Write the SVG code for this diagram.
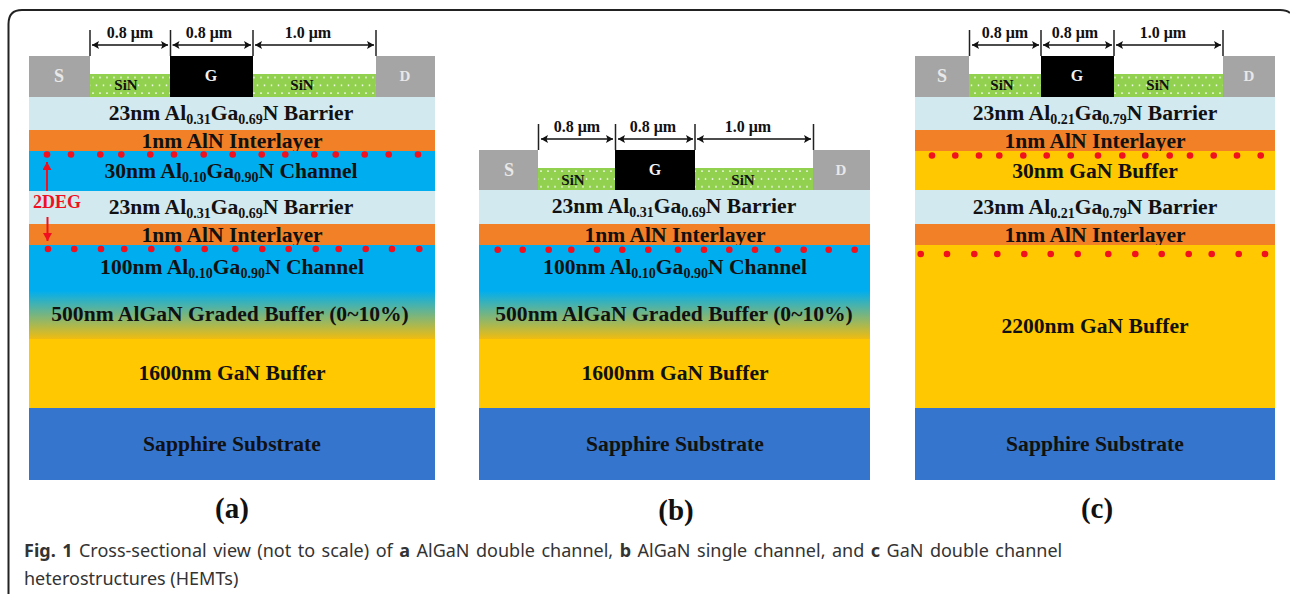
<svg xmlns="http://www.w3.org/2000/svg" width="1290" height="594" viewBox="0 0 1290 594">
<style>
.t{font-family:"Liberation Serif","Times New Roman",serif;font-weight:bold;font-size:21.6px;fill:#111;text-anchor:middle}
.s{font-size:14px}
.d{font-size:16px}
.sin{font-size:15px}
.w{fill:#e8e8e8;font-size:18px}
.wg{fill:#f2f2f2;font-size:16px}
.wd{fill:#e8e8e8;font-size:15px}
.p{font-size:29px}
.cap{font-family:"Noto Sans","Open Sans",sans-serif;font-size:18px;fill:#333}
.bar{fill:#d2e9f0}.org{fill:#f18026}.chn{fill:#00aeef}.buf{fill:#ffc800}.sap{fill:#3575cd}.gry{fill:#a5a5a5}.blk{fill:#000}.gr{fill:url(#graded)}.sn{fill:url(#sin)}
.tick{stroke:#222;stroke-width:1.5;fill:none}
.dim{stroke:#111;stroke-width:1.5;fill:none;marker-start:url(#hs);marker-end:url(#he)}
.red{stroke:#f01020;stroke-width:2;fill:none;marker-end:url(#hr)}
.dots{fill:#f0101e}
</style>
<defs>
<linearGradient id="graded" x1="0" y1="0" x2="0" y2="1"><stop offset="0" stop-color="#00aeef"/><stop offset="1" stop-color="#f0bc10"/></linearGradient>
<pattern id="sin" width="14" height="15.6" patternUnits="userSpaceOnUse" x="91" y="75.500"><rect width="14" height="15.6" fill="#92d050"/><circle cx="2" cy="2" r="0.9" fill="#fff"/><circle cx="9" cy="2" r="0.9" fill="#fff"/><circle cx="5.500" cy="9.800" r="0.9" fill="#fff"/><circle cx="12.500" cy="9.800" r="0.9" fill="#fff"/></pattern>
<marker id="he" markerWidth="8" markerHeight="8" refX="7" refY="4" orient="auto" markerUnits="userSpaceOnUse"><path d="M0 0L7 4L0 8L1.500 4Z" fill="#111"/></marker>
<marker id="hs" markerWidth="8" markerHeight="8" refX="0" refY="4" orient="auto" markerUnits="userSpaceOnUse"><path d="M7 0L0 4L7 8L5.500 4Z" fill="#111"/></marker>
<marker id="hr" markerWidth="9" markerHeight="10" refX="8" refY="4.500" orient="auto" markerUnits="userSpaceOnUse"><path d="M0 0L8 4.500L0 9Z" fill="#f01020"/></marker>
</defs>
<rect width="1290" height="594" fill="#fff"/>
<path id="frame" d="M8.500 594V24Q8.500 10 22 10H1280Q1287 10 1290 13" fill="none" stroke="#222" stroke-width="2"/>

<g id="device-a">
<g id="a-source"><rect class="gry" x="29" y="56" width="61" height="41"/><text class="t w" x="59" y="82">S</text></g>
<g id="a-sin1"><rect class="sn" x="90" y="74" width="80" height="23"/><text class="t sin" x="126" y="90">SiN</text></g>
<g id="a-gate"><rect class="blk" x="170" y="56" width="83" height="41"/><text class="t wg" x="211" y="81">G</text></g>
<g id="a-sin2"><rect class="sn" x="253" y="74" width="123" height="23"/><text class="t sin" x="302" y="90">SiN</text></g>
<g id="a-drain"><rect class="gry" x="376" y="56" width="59" height="41"/><text class="t wd" x="405" y="81">D</text></g>
<g id="a-l1"><rect class="bar" x="29" y="97" width="406" height="33"/><text class="t" x="231" y="120">23nm Al<tspan class="s" dy="4">0.31</tspan><tspan dy="-4">Ga</tspan><tspan class="s" dy="4">0.69</tspan><tspan dy="-4">N Barrier</tspan></text></g>
<g id="a-l2"><rect class="org" x="29" y="130" width="406" height="21"/><text class="t" x="232" y="148">1nm AlN Interlayer</text></g>
<g id="a-l3"><rect class="chn" x="29" y="151" width="406" height="40"/><text class="t" x="231" y="178">30nm Al<tspan class="s" dy="4">0.10</tspan><tspan dy="-4">Ga</tspan><tspan class="s" dy="4">0.90</tspan><tspan dy="-4">N Channel</tspan></text></g>
<g id="a-l4"><rect class="bar" x="29" y="191" width="406" height="33"/><text class="t" x="231" y="214">23nm Al<tspan class="s" dy="4">0.31</tspan><tspan dy="-4">Ga</tspan><tspan class="s" dy="4">0.69</tspan><tspan dy="-4">N Barrier</tspan></text></g>
<g id="a-l5"><rect class="org" x="29" y="224" width="406" height="21"/><text class="t" x="232" y="242">1nm AlN Interlayer</text></g>
<g id="a-l6"><rect class="chn" x="29" y="245" width="406" height="46"/><text class="t" x="232" y="274">100nm Al<tspan class="s" dy="4">0.10</tspan><tspan dy="-4">Ga</tspan><tspan class="s" dy="4">0.90</tspan><tspan dy="-4">N Channel</tspan></text></g>
<g id="a-l7"><rect class="gr" x="29" y="291" width="406" height="48"/><text class="t" x="230" y="321">500nm AlGaN Graded Buffer (0~10%)</text></g>
<g id="a-l8"><rect class="buf" x="29" y="339" width="406" height="69"/><text class="t" x="232" y="380">1600nm GaN Buffer</text></g>
<g id="a-l9"><rect class="sap" x="29" y="408" width="406" height="72"/><text class="t" x="232" y="451">Sapphire Substrate</text></g>
<g id="a-dots" class="dots"><circle cx="47" cy="154.500" r="3.300"/><circle cx="71" cy="154.500" r="3.300"/><circle cx="100.300" cy="154.500" r="3.300"/><circle cx="121.300" cy="154.500" r="3.300"/><circle cx="150.300" cy="154.500" r="3.300"/><circle cx="174" cy="154.500" r="3.300"/><circle cx="203.700" cy="154.500" r="3.300"/><circle cx="232.700" cy="154.500" r="3.300"/><circle cx="261.700" cy="154.500" r="3.300"/><circle cx="285.300" cy="154.500" r="3.300"/><circle cx="314.300" cy="154.500" r="3.300"/><circle cx="335.700" cy="154.500" r="3.300"/><circle cx="364.700" cy="154.500" r="3.300"/><circle cx="388.700" cy="154.500" r="3.300"/><circle cx="418" cy="154.500" r="3.300"/>
<circle cx="48" cy="249" r="3.300"/><circle cx="74.300" cy="249" r="3.300"/><circle cx="101" cy="249" r="3.300"/><circle cx="124.300" cy="249" r="3.300"/><circle cx="151.300" cy="249" r="3.300"/><circle cx="177.700" cy="249" r="3.300"/><circle cx="204.700" cy="249" r="3.300"/><circle cx="235.300" cy="249" r="3.300"/><circle cx="262.300" cy="249" r="3.300"/><circle cx="288.700" cy="249" r="3.300"/><circle cx="315.700" cy="249" r="3.300"/><circle cx="338.700" cy="249" r="3.300"/><circle cx="365.700" cy="249" r="3.300"/><circle cx="392" cy="249" r="3.300"/><circle cx="419.300" cy="249" r="3.300"/></g>
<text id="a-2deg" class="t" x="57" y="208" style="fill:#f01020;font-size:18px">2DEG</text>
<text class="t d" x="130" y="38">0.8 μm</text><text class="t d" x="209" y="38">0.8 μm</text><text class="t d" x="308" y="38">1.0 μm</text>
<text class="t p" x="232" y="518">(a)</text>
</g>

<g id="device-b">
<g id="b-source"><rect class="gry" x="479" y="150" width="59" height="40"/><text class="t w" x="509" y="176">S</text></g>
<g id="b-sin1"><rect class="sn" x="538" y="168" width="77" height="22"/><text class="t sin" x="573" y="185">SiN</text></g>
<g id="b-gate"><rect class="blk" x="615" y="150" width="80" height="40"/><text class="t wg" x="655" y="175">G</text></g>
<g id="b-sin2"><rect class="sn" x="695" y="168" width="118" height="22"/><text class="t sin" x="743" y="185">SiN</text></g>
<g id="b-drain"><rect class="gry" x="813" y="150" width="57" height="40"/><text class="t wd" x="841" y="175">D</text></g>
<g id="b-l1"><rect class="bar" x="479" y="190" width="391" height="34"/><text class="t" x="674" y="213">23nm Al<tspan class="s" dy="4">0.31</tspan><tspan dy="-4">Ga</tspan><tspan class="s" dy="4">0.69</tspan><tspan dy="-4">N Barrier</tspan></text></g>
<g id="b-l2"><rect class="org" x="479" y="224" width="391" height="21"/><text class="t" x="675" y="242">1nm AlN Interlayer</text></g>
<g id="b-l3"><rect class="chn" x="479" y="245" width="391" height="46"/><text class="t" x="675" y="274">100nm Al<tspan class="s" dy="4">0.10</tspan><tspan dy="-4">Ga</tspan><tspan class="s" dy="4">0.90</tspan><tspan dy="-4">N Channel</tspan></text></g>
<g id="b-l4"><rect class="gr" x="479" y="291" width="391" height="48"/><text class="t" x="674" y="321">500nm AlGaN Graded Buffer (0~10%)</text></g>
<g id="b-l5"><rect class="buf" x="479" y="339" width="391" height="69"/><text class="t" x="675" y="380">1600nm GaN Buffer</text></g>
<g id="b-l6"><rect class="sap" x="479" y="408" width="391" height="72"/><text class="t" x="675" y="451">Sapphire Substrate</text></g>
<g id="b-dots" class="dots"><circle cx="497.700" cy="249.700" r="3.300"/><circle cx="522.700" cy="249.700" r="3.300"/><circle cx="548.700" cy="249.700" r="3.300"/><circle cx="571.300" cy="249.700" r="3.300"/><circle cx="597" cy="249.700" r="3.300"/><circle cx="622.300" cy="249.700" r="3.300"/><circle cx="648.300" cy="249.700" r="3.300"/><circle cx="678" cy="249.700" r="3.300"/><circle cx="704" cy="249.700" r="3.300"/><circle cx="729.300" cy="249.700" r="3.300"/><circle cx="755" cy="249.700" r="3.300"/><circle cx="777.700" cy="249.700" r="3.300"/><circle cx="803.700" cy="249.700" r="3.300"/><circle cx="828.700" cy="249.700" r="3.300"/><circle cx="854.700" cy="249.700" r="3.300"/></g>
<text class="t d" x="577" y="132">0.8 μm</text><text class="t d" x="653" y="132">0.8 μm</text><text class="t d" x="748" y="132">1.0 μm</text>
<text class="t p" x="676" y="520">(b)</text>
</g>

<g id="device-c">
<g id="c-source"><rect class="gry" x="915" y="56" width="54" height="41"/><text class="t w" x="942" y="82">S</text></g>
<g id="c-sin1"><rect class="sn" x="969" y="74" width="72" height="23"/><text class="t sin" x="1002" y="90">SiN</text></g>
<g id="c-gate"><rect class="blk" x="1041" y="56" width="73" height="41"/><text class="t wg" x="1077" y="81">G</text></g>
<g id="c-sin2"><rect class="sn" x="1114" y="74" width="109" height="23"/><text class="t sin" x="1158" y="90">SiN</text></g>
<g id="c-drain"><rect class="gry" x="1223" y="56" width="52" height="41"/><text class="t wd" x="1249" y="81">D</text></g>
<g id="c-l1"><rect class="bar" x="915" y="97" width="360" height="33"/><text class="t" x="1095" y="120">23nm Al<tspan class="s" dy="4">0.21</tspan><tspan dy="-4">Ga</tspan><tspan class="s" dy="4">0.79</tspan><tspan dy="-4">N Barrier</tspan></text></g>
<g id="c-l2"><rect class="org" x="915" y="130" width="360" height="21"/><text class="t" x="1095" y="148">1nm AlN Interlayer</text></g>
<g id="c-l3"><rect class="buf" x="915" y="151" width="360" height="39"/><text class="t" x="1095" y="178">30nm GaN Buffer</text></g>
<g id="c-l4"><rect class="bar" x="915" y="190" width="360" height="34"/><text class="t" x="1095" y="214">23nm Al<tspan class="s" dy="4">0.21</tspan><tspan dy="-4">Ga</tspan><tspan class="s" dy="4">0.79</tspan><tspan dy="-4">N Barrier</tspan></text></g>
<g id="c-l5"><rect class="org" x="915" y="224" width="360" height="21"/><text class="t" x="1095" y="242">1nm AlN Interlayer</text></g>
<g id="c-l6"><rect class="buf" x="915" y="245" width="360" height="163"/><text class="t" x="1095" y="333">2200nm GaN Buffer</text></g>
<g id="c-l7"><rect class="sap" x="915" y="408" width="360" height="72"/><text class="t" x="1095" y="451">Sapphire Substrate</text></g>
<g id="c-dots" class="dots"><circle cx="932" cy="155.500" r="3.300"/><circle cx="955.300" cy="155.500" r="3.300"/><circle cx="979" cy="155.500" r="3.300"/><circle cx="999.300" cy="155.500" r="3.300"/><circle cx="1023.300" cy="155.500" r="3.300"/><circle cx="1046.700" cy="155.500" r="3.300"/><circle cx="1070.700" cy="155.500" r="3.300"/><circle cx="1098" cy="155.500" r="3.300"/><circle cx="1122.300" cy="155.500" r="3.300"/><circle cx="1145.300" cy="155.500" r="3.300"/><circle cx="1169.700" cy="155.500" r="3.300"/><circle cx="1190" cy="155.500" r="3.300"/><circle cx="1213.700" cy="155.500" r="3.300"/><circle cx="1237" cy="155.500" r="3.300"/><circle cx="1260.700" cy="155.500" r="3.300"/>
<circle cx="920.700" cy="254" r="3.300"/><circle cx="947" cy="254" r="3.300"/><circle cx="974.300" cy="254" r="3.300"/><circle cx="997.300" cy="254" r="3.300"/><circle cx="1024.300" cy="254" r="3.300"/><circle cx="1050.700" cy="254" r="3.300"/><circle cx="1077.700" cy="254" r="3.300"/><circle cx="1108.300" cy="254" r="3.300"/><circle cx="1135.300" cy="254" r="3.300"/><circle cx="1161.700" cy="254" r="3.300"/><circle cx="1188.700" cy="254" r="3.300"/><circle cx="1211.700" cy="254" r="3.300"/><circle cx="1238.700" cy="254" r="3.300"/><circle cx="1265" cy="254" r="3.300"/></g>
<text class="t d" x="1005" y="38">0.8 μm</text><text class="t d" x="1075" y="38">0.8 μm</text><text class="t d" x="1163" y="38">1.0 μm</text>
<text class="t p" x="1097" y="518">(c)</text>
</g>

<g id="connectors">
<path class="tick" d="M90 30V56M170.500 30V56M253 30V56M376 30V56"/>
<path class="dim" d="M92 45H168"/><path class="dim" d="M172.500 45H251"/><path class="dim" d="M255 45H374"/>
<path class="red" d="M47 191V162"/><path class="red" d="M47.500 217V241"/>
<path class="tick" d="M538.500 124V150M615.500 124V150M695 124V150M813.500 124V150"/>
<path class="dim" d="M541 139H613"/><path class="dim" d="M618 139H693"/><path class="dim" d="M697 139H811"/>
<path class="tick" d="M969.500 30V56M1041 30V56M1114 30V56M1223 30V56"/>
<path class="dim" d="M972 45H1039"/><path class="dim" d="M1043 45H1112"/><path class="dim" d="M1116 45H1221"/>
</g>

<g id="caption">
<text class="cap" x="24" y="557" style="word-spacing:1.800px"><tspan font-weight="bold">Fig. 1</tspan> Cross-sectional view (not to scale) of <tspan font-weight="bold">a</tspan> AlGaN double channel, <tspan font-weight="bold">b</tspan> AlGaN single channel, and <tspan font-weight="bold">c</tspan> GaN double channel</text>
<text class="cap" x="24" y="585">heterostructures (HEMTs)</text>
</g>
</svg>
